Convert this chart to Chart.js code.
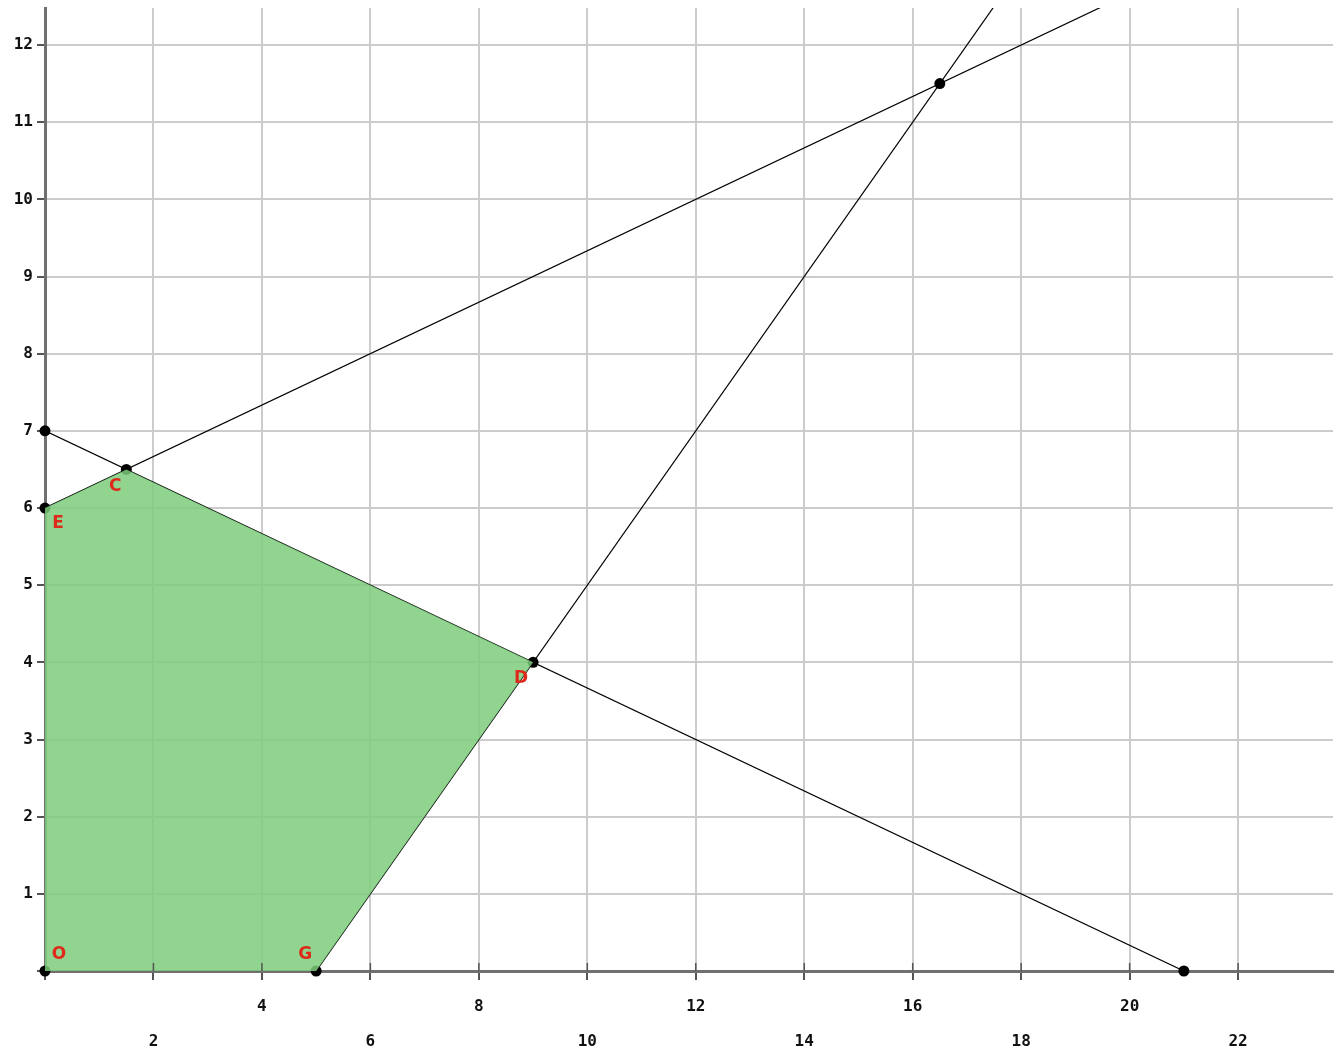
<!DOCTYPE html>
<html>
<head>
<meta charset="utf-8">
<script src="https://cdn.jsdelivr.net/npm/chart.js@4"></script>
<style>
  body { margin: 0; background: #fff; }
  canvas { display: block; }
</style>
</head>
<body>
<canvas id="chart1" width="1341" height="1054"></canvas>
<script>
// axis ticks
const xTicks = [0, 2, 4, 6, 8, 10, 12, 14, 16, 18, 20, 22];
const yTicks = [0, 1, 2, 3, 4, 5, 6, 7, 8, 9, 10, 11, 12];
const xMax = 23.75;
const yMax = 12.48;

// feasible region corners (O, G, D, C, E)
const regionNames = ['O', 'G', 'D', 'C', 'E'];
const regionX = [0, 5, 9, 1.5, 0];
const regionY = [0, 0, 4, 6.5, 6];

// constraint lines, [x0, y0, x1, y1]
const line1 = [0, 7, 21, 0];
const line2 = [0, 6, 19.5, 12.5];
const line3 = [5, 0, 17.5, 12.5];

// marked points
const dotX = [0, 5, 9, 1.5, 0, 0, 21, 16.5];
const dotY = [0, 0, 4, 6.5, 6, 7, 0, 11.5];

// label offsets around each corner, in pixels
const labelDX = [14, -11, -12, -11, 13];
const labelDY = [-16, -16, 16, 17, 16];

function seg(l) {
    return [{x: l[0], y: l[1]}, {x: l[2], y: l[3]}];
}

const cornerLabels = {
    id: 'cornerLabels',
    afterDatasetsDraw(chart) {
        const ctx = chart.ctx;
        const sx = chart.scales.x;
        const sy = chart.scales.y;
        ctx.save();
        ctx.font = 'bold 17px "DejaVu Sans"';
        ctx.fillStyle = '#dd2a1a';
        ctx.textAlign = 'center';
        ctx.textBaseline = 'middle';
        regionNames.forEach((n, i) => {
            ctx.fillText(n, sx.getPixelForValue(regionX[i]) + labelDX[i],
                sy.getPixelForValue(regionY[i]) + labelDY[i]);
        });
        ctx.restore();
    }
};

// short dark marks through the x axis line at each tick
const axisMarks = {
    id: 'axisMarks',
    afterDatasetsDraw(chart) {
        const ctx = chart.ctx;
        const sx = chart.scales.x;
        const y0 = chart.chartArea.bottom;
        ctx.save();
        ctx.strokeStyle = '#555';
        ctx.lineWidth = 1.5;
        ctx.beginPath();
        xTicks.forEach(v => {
            if (v === 0) return;
            const px = sx.getPixelForValue(v);
            ctx.moveTo(px, y0 - 8);
            ctx.lineTo(px, y0);
        });
        ctx.stroke();
        ctx.restore();
    }
};

const lineStyle = {
    type: 'scatter',
    showLine: true,
    borderColor: '#000',
    borderWidth: 1.2,
    pointRadius: 0,
    fill: false,
    clip: 0
};

const ctx1 = document.getElementById('chart1');

const chart1 = new Chart(ctx1, {
    type: 'scatter',
    data: {
        datasets: [
            {
                data: regionX.map((x, i) => ({x: x, y: regionY[i]})),
                showLine: true,
                fill: 'shape',
                backgroundColor: 'rgba(124,204,124,0.85)',
                borderWidth: 0,
                borderColor: 'rgba(0,0,0,0)',
                pointRadius: 0,
                clip: false
            },
            Object.assign({data: seg(line1)}, lineStyle),
            Object.assign({data: seg(line2)}, lineStyle),
            Object.assign({data: seg(line3)}, lineStyle),
            {
                data: dotX.map((x, i) => ({x: x, y: dotY[i]})),
                pointRadius: 5.5,
                pointBackgroundColor: '#000',
                pointBorderWidth: 0,
                clip: false
            }
        ]
    },
    options: {
        responsive: false,
        animation: false,
        layout: {
            padding: {top: 8, right: 8, left: 0, bottom: 0}
        },
        plugins: {
            legend: {display: false},
            tooltip: {enabled: false}
        },
        scales: {
            x: {
                type: 'linear',
                min: 0,
                max: xMax,
                afterBuildTicks: s => { s.ticks = xTicks.map(v => ({value: v})); },
                afterFit: s => { s.height = 83; s.paddingLeft = 0; s.paddingRight = 0; },
                grid: {
                    color: '#cccccc',
                    lineWidth: 2,
                    tickColor: '#555',
                    tickLength: 9
                },
                border: {color: '#707070', width: 3},
                ticks: {
                    autoSkip: false,
                    maxRotation: 0,
                    padding: 9,
                    color: '#111',
                    font: {family: '"DejaVu Sans Mono"', size: 16, weight: 'bold', lineHeight: 2.2},
                    callback: function(v) {
                        if (v === 0) return '';
                        return (v / 2) % 2 === 1 ? ['', String(v)] : [String(v), ''];
                    }
                }
            },
            y: {
                type: 'linear',
                min: 0,
                max: yMax,
                afterBuildTicks: s => { s.ticks = yTicks.map(v => ({value: v})); },
                afterFit: s => { s.width = 45; s.paddingTop = 0; s.paddingBottom = 0; },
                grid: {
                    color: '#cccccc',
                    lineWidth: 2,
                    tickColor: '#555',
                    tickLength: 8
                },
                border: {color: '#707070', width: 3},
                ticks: {
                    padding: 4,
                    color: '#111',
                    font: {family: '"DejaVu Sans Mono"', size: 16, weight: 'bold'},
                    callback: v => (v === 0 ? '' : String(v))
                }
            }
        }
    },
    plugins: [cornerLabels, axisMarks]
});
</script>
</body>
</html>
